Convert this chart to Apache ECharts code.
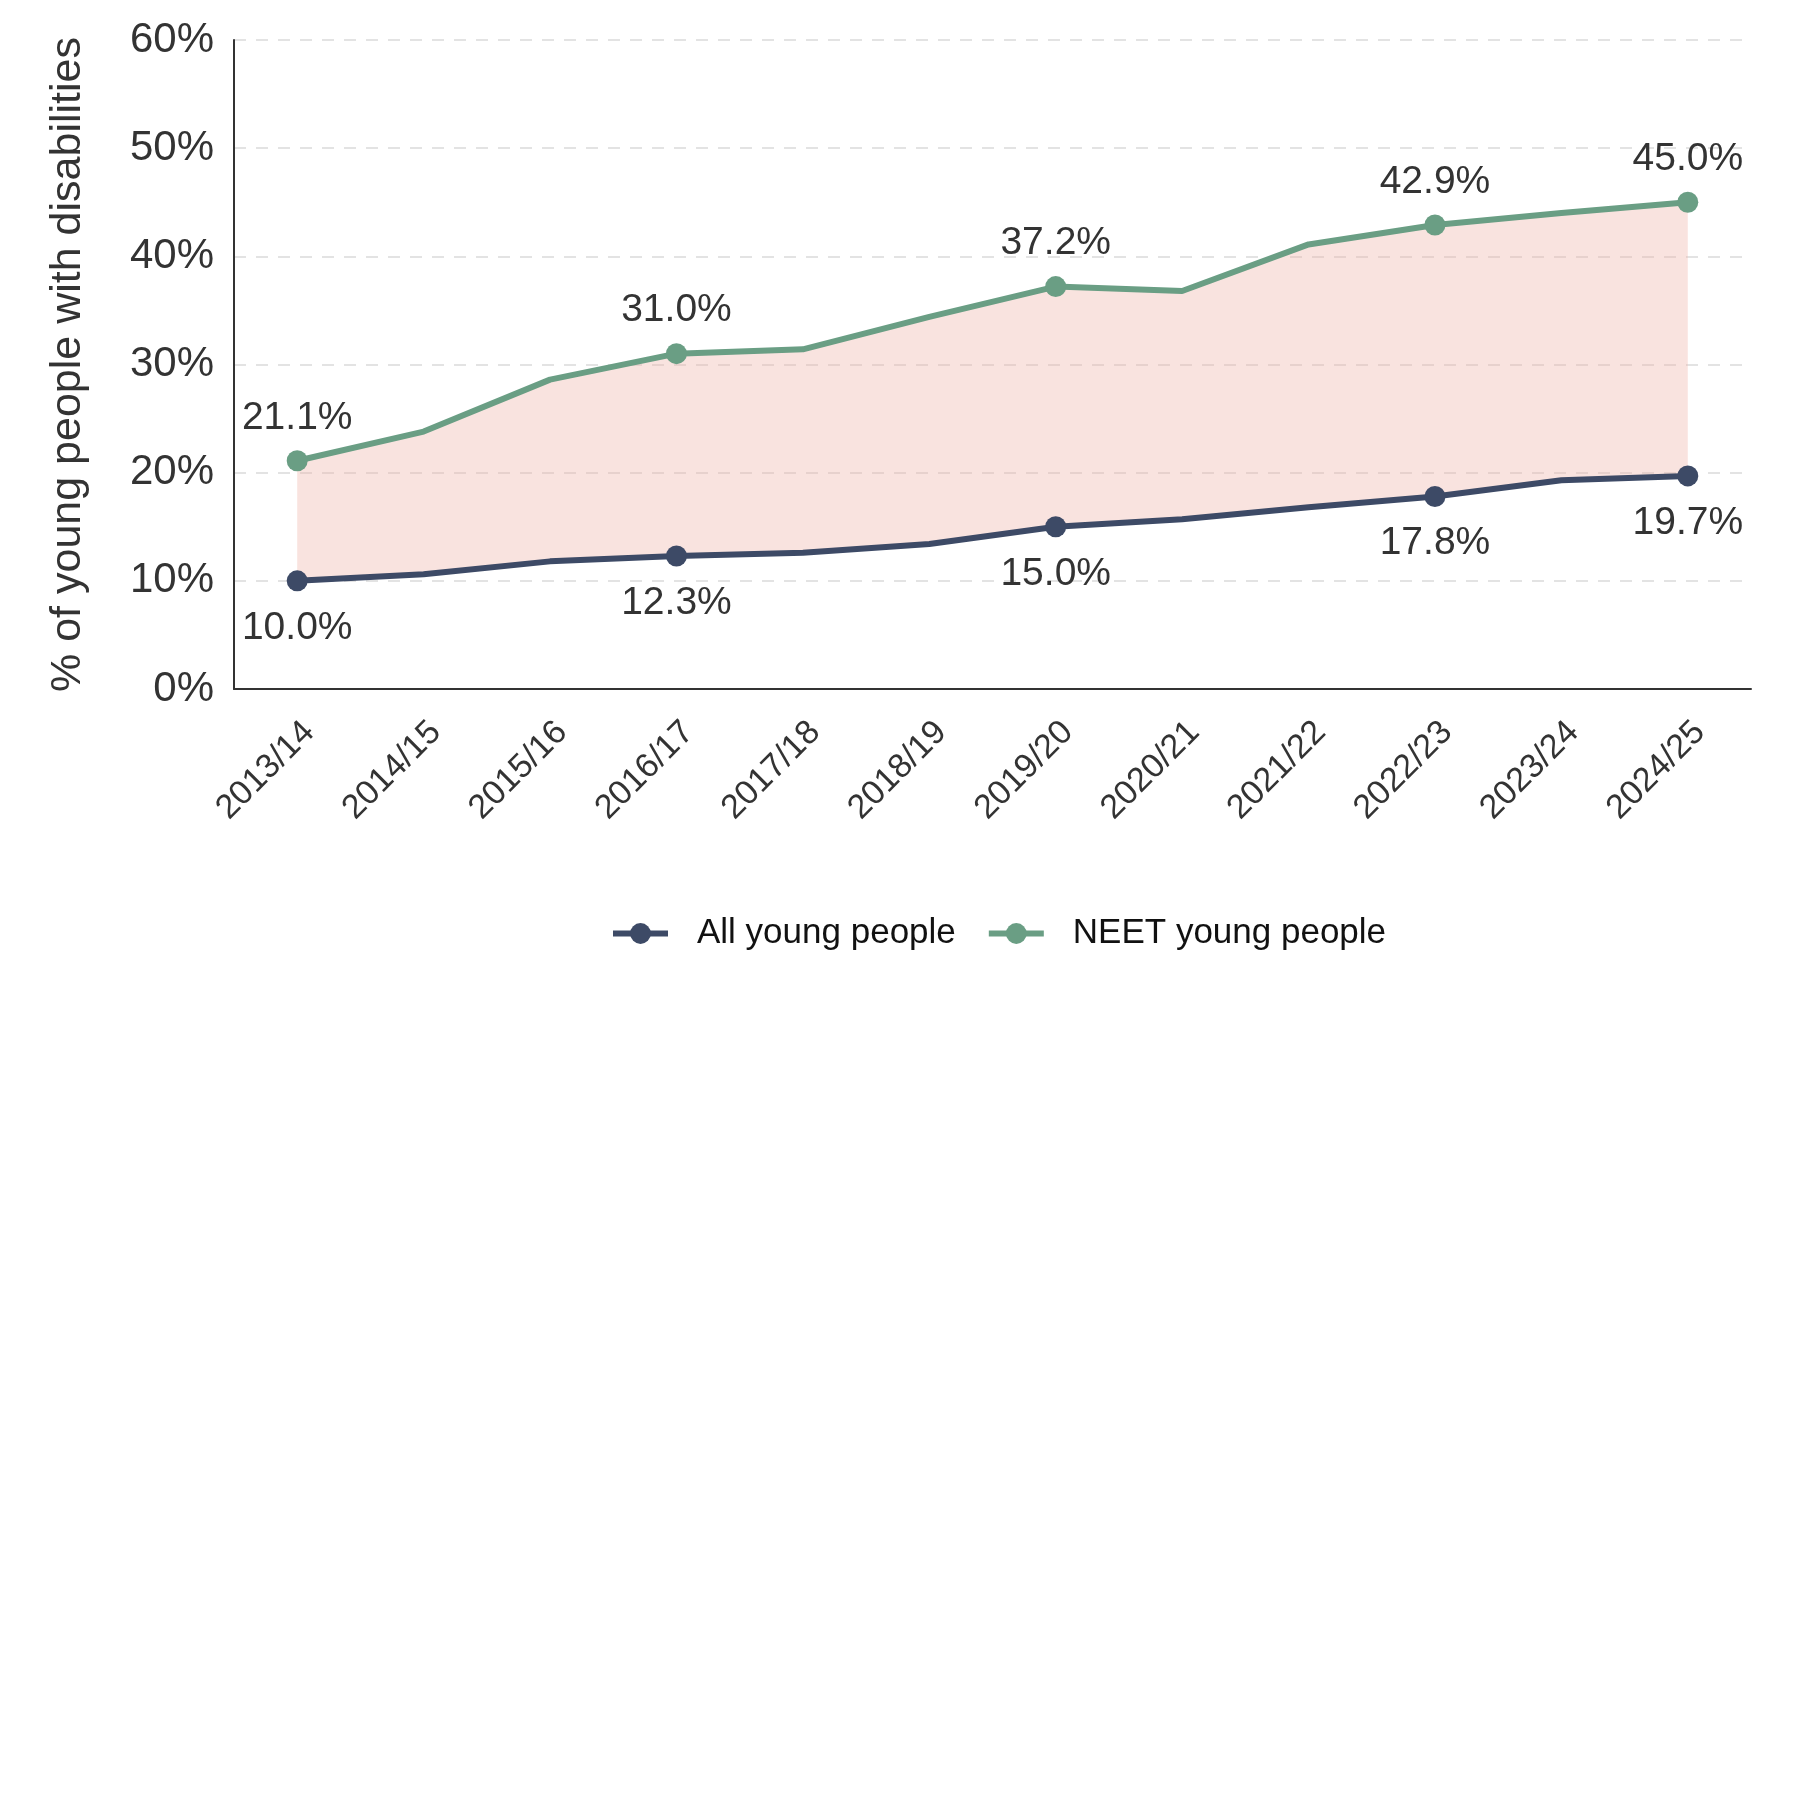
<!DOCTYPE html>
<html>
  <head>
    <meta charset="utf-8" />
    <script src="https://cdn.jsdelivr.net/npm/echarts@6.0.0/dist/echarts.min.js"></script>
  </head>
  <body style="margin:0;">
    <div id="main" style="width: 1800px;height:1800px;"></div>
    <script type="text/javascript">
      var years = ['2013/14', '2014/15', '2015/16', '2016/17', '2017/18', '2018/19',
                   '2019/20', '2020/21', '2021/22', '2022/23', '2023/24', '2024/25'];
      var allYoung = [10.0, 10.6, 11.8, 12.3, 12.6, 13.4, 15.0, 15.7, 16.8, 17.8, 19.3, 19.7];
      var neetYoung = [21.1, 23.8, 28.6, 31.0, 31.4, 34.4, 37.2, 36.8, 41.1, 42.9, 44.0, 45.0];
      // points that get a marker and a value label
      var marked = [0, 3, 6, 9, 11];
      var yTicks = [0, 10, 20, 30, 40, 50, 60];

      var gap = neetYoung.map(function (v, i) { return +(v - allYoung[i]).toFixed(1); });

      var myChart = echarts.init(document.getElementById('main'));
      var font = 'Liberation Sans, Arial, sans-serif';

      function sizeFn(v, p) { return marked.indexOf(p.dataIndex) >= 0 ? 21 : 0; }
      function labelFn(p) {
        return marked.indexOf(p.dataIndex) >= 0 ? p.value.toFixed(1) + '%' : '';
      }

      var option = {
        animation: false,
        grid: { left: 234, right: 49, top: 40, bottom: 1111 },
        legend: {
          data: ['All young people', 'NEET young people'],
          top: 911,
          left: 605,
          itemWidth: 55,
          itemHeight: 26,
          itemGap: 30,
          lineStyle: { width: 6 },
          textStyle: { fontFamily: font, fontSize: 35, color: '#111', padding: [0, 0, 0, 24] }
        },
        xAxis: {
          type: 'category',
          data: years,
          boundaryGap: true,
          axisLine: { lineStyle: { color: '#333', width: 2 } },
          axisTick: { show: false },
          axisLabel: {
            rotate: 45, fontFamily: font, fontSize: 34, color: '#333',
            margin: 26, interval: 0, verticalAlign: 'top'
          }
        },
        yAxis: {
          type: 'value',
          min: 0,
          max: 60,
          interval: 10,
          name: '% of young people with disabilities',
          nameLocation: 'middle',
          nameGap: 144,
          nameTextStyle: { fontFamily: font, fontSize: 43, color: '#333' },
          axisLine: { show: true, lineStyle: { color: '#333', width: 2 } },
          axisTick: { show: false },
          axisLabel: {
            fontFamily: font, fontSize: 42, color: '#333', margin: 20,
            formatter: function (v) { return yTicks.indexOf(v) >= 0 ? v + '%' : ''; }
          },
          splitLine: { lineStyle: { color: '#e3e3e3', type: [12, 10], width: 2 } }
        },
        series: [
          {
            name: 'base',
            type: 'line',
            stack: 'band',
            data: allYoung,
            symbol: 'none',
            lineStyle: { width: 0, opacity: 0 },
            silent: true
          },
          {
            name: 'gap',
            type: 'line',
            stack: 'band',
            data: gap,
            symbol: 'none',
            lineStyle: { width: 0, opacity: 0 },
            areaStyle: { color: '#eeb2a5', opacity: 0.36 },
            silent: true
          },
          {
            name: 'All young people',
            type: 'line',
            data: allYoung,
            symbol: 'circle',
            symbolSize: sizeFn,
            showAllSymbol: true,
            color: '#3d4a66',
            lineStyle: { width: 6, color: '#3d4a66' },
            itemStyle: { color: '#3d4a66' },
            label: {
              show: true, position: 'bottom', distance: 17,
              fontFamily: font, fontSize: 39, color: '#333', formatter: labelFn
            },
            z: 3
          },
          {
            name: 'NEET young people',
            type: 'line',
            data: neetYoung,
            symbol: 'circle',
            symbolSize: sizeFn,
            showAllSymbol: true,
            color: '#6a9e84',
            lineStyle: { width: 6, color: '#6a9e84' },
            itemStyle: { color: '#6a9e84' },
            label: {
              show: true, position: 'top', distance: 13,
              fontFamily: font, fontSize: 39, color: '#333', formatter: labelFn
            },
            z: 3
          }
        ]
      };

      myChart.setOption(option);
    </script>
  </body>
</html>
